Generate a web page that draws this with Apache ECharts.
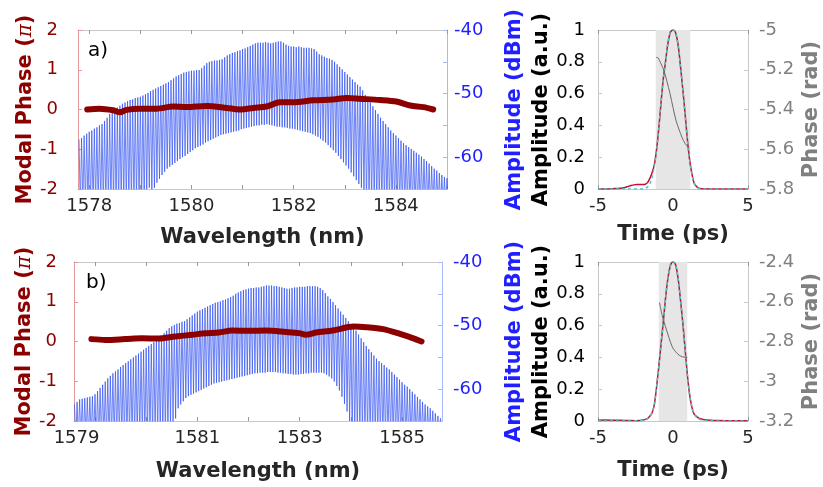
<!DOCTYPE html>
<html><head><meta charset="utf-8">
<script src="https://cdn.jsdelivr.net/npm/echarts@6/dist/echarts.min.js"></script>
<style>html,body{margin:0;padding:0;background:#fff}#c{width:823px;height:487px}</style>
</head><body><div id="c"></div>
<script>
// ---------- Panel a: comb spectrum (dBm), one peak + one trough per comb line ----------
const specA_start = 1577.80, specA_step = 0.05;
const specA_peak = [
-57.2,-57.0,-56.6,-56.3,-56.0,-55.8,-55.5,-55.3,-55.0,-54.8,
-54.3,-53.8,-53.2,-52.8,-52.5,-52.2,-51.9,-51.6,-51.4,-51.2,
-51.0,-50.9,-50.7,-50.6,-50.5,-50.3,-50.1,-49.9,-49.6,-49.4,
-49.2,-49.0,-48.8,-48.6,-48.4,-48.2,-47.9,-47.6,-47.3,-47.1,
-46.9,-46.7,-46.6,-46.5,-46.4,-46.4,-46.3,-46.3,-46.0,-45.6,
-45.2,-45.0,-44.9,-44.8,-44.8,-44.7,-44.6,-44.3,-44.0,-43.8,
-43.6,-43.5,-43.3,-43.2,-43.0,-42.9,-42.7,-42.5,-42.3,-42.1,
-42.0,-42.0,-42.0,-41.9,-42.0,-42.1,-42.0,-41.9,-41.8,-41.8,
-42.0,-42.3,-42.5,-42.6,-42.6,-42.7,-42.6,-42.7,-42.8,-42.8,
-42.8,-42.9,-43.0,-43.4,-43.8,-44.0,-44.2,-44.4,-44.5,-44.7,
-45.0,-45.4,-45.8,-46.2,-46.6,-47.0,-47.4,-47.8,-48.2,-48.6,
-48.9,-49.5,-50.2,-50.8,-51.4,-52.0,-52.6,-53.2,-53.8,-54.3,
-54.8,-55.3,-55.8,-56.2,-56.6,-57.0,-57.4,-57.8,-58.1,-58.4,
-58.7,-59.0,-59.3,-59.6,-59.9,-60.3,-60.6,-61.0,-61.4,-61.8,
-62.1,-62.5,-62.8,-63.1,-63.3];
const specA_trough = [
-68,-68,-68,-68,-68,-68,-68,-68,-68,-68,
-68,-68,-68,-68,-68,-68,-68,-68,-68,-68,
-68,-68,-68,-68,-68,-68,-66,-64.8,-65.5,-64.8,
-64.0,-63.4,-62.8,-62.3,-61.8,-61.5,-61.2,-60.9,-60.6,-60.3,
-60.0,-59.8,-59.5,-59.2,-58.9,-58.6,-58.4,-58.2,-58.0,-57.7,
-57.5,-57.3,-57.1,-56.9,-56.7,-56.5,-56.4,-56.3,-56.2,-56.1,
-56.0,-55.9,-55.8,-55.6,-55.5,-55.4,-55.3,-55.2,-55.1,-55.0,
-55.0,-54.9,-54.9,-54.8,-54.9,-55.0,-55.1,-55.2,-55.2,-55.3,
-55.3,-55.4,-55.5,-55.5,-55.6,-55.7,-55.8,-55.9,-56.0,-56.1,
-56.2,-56.4,-56.6,-56.8,-57.1,-57.4,-57.7,-58.1,-58.5,-58.9,
-59.3,-59.8,-60.3,-60.8,-61.3,-61.8,-62.4,-63.0,-63.6,-64.2,
-64.8,-66,-68,-68,-68,-68,-68,-68,-68,-68,
-68,-68,-68,-68,-68,-68,-68,-68,-68,-68,
-68,-68,-68,-68,-68,-68,-68,-68,-68,-68,
-68,-68,-68,-68,-68];
// Panel a: modal phase (units of pi)
const phaseA_wl = [1577.96,1578.2,1578.47,1578.6,1578.73,1578.99,1579.32,1579.64,1579.9,1580.3,1580.69,1580.95,1581.21,1581.47,1581.73,1581.99,1582.38,1582.77,1583.04,1583.3,1583.69,1584.01,1584.28,1584.54,1584.73];
const phaseA = [0.0,0.02,-0.02,-0.07,-0.01,0.02,0.02,0.075,0.06,0.09,0.04,0.0,0.04,0.075,0.18,0.18,0.23,0.25,0.29,0.27,0.24,0.2,0.1,0.06,0.0];

// ---------- Panel b ----------
const specB_start = 1578.60, specB_step = 0.05;
const specB_peak = [
-62.4,-62.0,-61.6,-61.5,-61.4,-61.3,-61.2,-61.1,-60.8,-60.3,
-59.8,-59.3,-58.8,-58.3,-57.9,-57.5,-57.2,-56.9,-56.5,-56.2,
-55.9,-55.6,-55.3,-55.0,-54.7,-54.4,-54.1,-53.8,-53.5,-53.2,
-52.9,-52.6,-52.3,-52.0,-51.6,-51.2,-50.8,-50.4,-50.1,-49.9,
-49.7,-49.6,-49.4,-49.3,-49.0,-48.7,-48.4,-48.1,-47.8,-47.6,
-47.4,-47.2,-47.0,-46.8,-46.6,-46.4,-46.3,-46.2,-46.0,-45.9,
-45.7,-45.5,-45.3,-45.0,-44.8,-44.6,-44.4,-44.3,-44.2,-44.1,
-44.1,-44.0,-44.0,-43.9,-43.8,-43.7,-43.7,-43.7,-43.8,-43.8,
-43.9,-44.0,-44.1,-44.2,-44.2,-44.1,-44.0,-44.0,-43.9,-43.9,
-43.9,-43.8,-43.8,-43.8,-43.8,-43.9,-44.1,-44.4,-44.9,-45.4,
-45.8,-46.3,-46.8,-47.3,-47.8,-48.3,-48.8,-49.3,-49.8,-50.2,
-50.8,-51.4,-52.0,-52.6,-53.2,-53.7,-54.2,-54.7,-55.2,-55.6,
-55.9,-56.2,-56.6,-56.9,-57.3,-57.7,-58.1,-58.5,-58.9,-59.3,
-59.6,-60.0,-60.4,-60.8,-61.2,-61.6,-62.0,-62.4,-62.7,-63.0,
-63.4,-63.8,-64.2,-64.6];
const specB_trough = [
-68,-68,-68,-68,-68,-68,-68,-68,-68,-68,
-68,-68,-68,-68,-68,-68,-68,-68,-68,-68,
-68,-68,-68,-68,-68,-68,-68,-68,-68,-68,
-68,-68,-68,-68,-68,-68,-68,-66,-65.2,-64.6,
-63.0,-62.4,-61.9,-61.4,-61.1,-60.9,-60.7,-60.5,-60.3,-60.1,
-59.9,-59.7,-59.5,-59.3,-59.1,-59.0,-58.9,-58.8,-58.7,-58.6,
-58.5,-58.4,-58.3,-58.2,-58.1,-58.0,-57.9,-57.8,-57.7,-57.6,
-57.5,-57.5,-57.4,-57.4,-57.4,-57.3,-57.3,-57.3,-57.3,-57.4,
-57.4,-57.5,-57.5,-57.6,-57.6,-57.7,-57.7,-57.7,-57.6,-57.6,
-57.5,-57.5,-57.4,-57.4,-57.4,-57.4,-57.4,-57.5,-57.7,-58.0,
-58.3,-58.8,-59.5,-60.2,-61.2,-62.3,-63.5,-65,-68,-68,
-68,-68,-68,-68,-68,-68,-68,-68,-68,-68,
-68,-68,-68,-68,-68,-68,-68,-68,-68,-68,
-68,-68,-68,-68,-68,-68,-68,-68,-68,-68,
-68,-68,-68,-68];
const phaseB_wl = [1578.93,1579.2,1579.59,1579.92,1580.24,1580.57,1580.9,1581.16,1581.42,1581.68,1582.01,1582.34,1582.73,1582.99,1583.12,1583.32,1583.65,1584.05,1584.3,1584.63,1584.96,1585.22,1585.38];
const phaseB = [0.06,0.04,0.06,0.08,0.075,0.125,0.17,0.21,0.225,0.275,0.27,0.275,0.24,0.21,0.17,0.225,0.275,0.375,0.36,0.31,0.19,0.08,0.0];

// ---------- Panel c: pulse ----------
const timeC = [-5,-4.5,-4,-3.5,-3.2,-3,-2.8,-2.6,-2.4,-2.2,-2,-1.85,-1.7,-1.55,-1.4,-1.25,-1.1,-0.95,-0.8,-0.65,-0.5,-0.35,-0.2,-0.1,0,0.1,0.2,0.35,0.5,0.65,0.8,0.95,1.1,1.25,1.4,1.55,1.7,1.85,2,2.5,3,3.5,4,4.5,5];
const ampC = [0,0,0.002,0.005,0.01,0.016,0.022,0.026,0.028,0.028,0.028,0.03,0.04,0.065,0.1,0.15,0.245,0.38,0.54,0.69,0.8,0.91,0.98,0.995,1.0,0.995,0.975,0.9,0.77,0.63,0.48,0.32,0.19,0.1,0.04,0.018,0.007,0.002,0.001,0,0,0,0,0,0];
const fitC = [0,0,0,0,0,0,0,0,0,0,0.002,0.005,0.012,0.03,0.07,0.14,0.24,0.38,0.54,0.69,0.8,0.91,0.98,0.995,1.0,0.995,0.975,0.9,0.77,0.63,0.48,0.32,0.19,0.1,0.04,0.015,0.005,0.001,0,0,0,0,0,0,0];
const phTimeC = [-1.12,-1.0,-0.8,-0.6,-0.4,-0.2,0,0.2,0.4,0.6,0.8,1.0,1.1];
const phC = [-5.138,-5.14,-5.17,-5.205,-5.26,-5.32,-5.39,-5.455,-5.5,-5.54,-5.57,-5.59,-5.595];
const shadeC = [-1.15, 1.15];

// ---------- Panel d ----------
const timeD = [-5,-4.5,-4,-3.5,-3,-2.5,-2.2,-2,-1.85,-1.7,-1.55,-1.4,-1.25,-1.1,-0.95,-0.8,-0.65,-0.5,-0.35,-0.2,-0.1,0,0.1,0.2,0.35,0.5,0.65,0.8,0.95,1.1,1.25,1.4,1.55,1.7,1.85,2,2.5,3,3.5,4,4.5,5];
const ampD = [0.004,0.006,0.005,0.004,0.003,0.002,0.003,0.006,0.01,0.015,0.03,0.05,0.1,0.21,0.34,0.48,0.62,0.77,0.89,0.97,0.995,1.0,0.995,0.975,0.89,0.76,0.62,0.46,0.3,0.17,0.09,0.045,0.03,0.02,0.014,0.01,0.005,0.003,0.002,0.002,0.002,0.001];
const fitD = [0,0,0,0,0,0.001,0.002,0.004,0.008,0.014,0.028,0.05,0.1,0.21,0.34,0.48,0.62,0.77,0.89,0.97,0.995,1.0,0.995,0.975,0.89,0.76,0.62,0.46,0.3,0.17,0.09,0.045,0.025,0.015,0.008,0.004,0.001,0,0,0,0,0];
const phTimeD = [-0.9,-0.72,-0.5,-0.27,-0.05,0.18,0.41,0.63,0.8,0.96];
const phD = [-2.604,-2.668,-2.726,-2.78,-2.827,-2.852,-2.869,-2.877,-2.879,-2.88];
const shadeD = [-0.95, 0.95];

// tick labels
const wlTicksA = [1578,1579,1580,1581,1582,1583,1584,1585];
const wlLabelsA = [1578,1580,1582,1584];
const wlTicksB = [1579,1580,1581,1582,1583,1584,1585];
const wlLabelPosB = [1578.64,1581,1583,1585];
const wlLabelTextB = ['1579','1581','1583','1585'];

// ---------- build ----------
function comb(start, step, up, lo) {
  const d = [];
  for (let i = 0; i < up.length; i++) {
    d.push([+(start + i * step).toFixed(4), up[i]]);
    d.push([+(start + (i + 0.5) * step).toFixed(4), lo[i]]);
  }
  return d;
}
const zip = (a, b) => a.map((v, i) => [v, b[i]]);

const FF = 'DejaVu Sans';
const DARKRED = '#8c0000', BLUE = '#1f1fff', GRAYTXT = '#808080', TXT = '#262626';
const BOX = '#c8c8c8';
const TICKFS = 18, NAMEFS = 21;

const grids = [
  {left: 78, top: 30, width: 369, height: 159},
  {left: 74, top: 262, width: 368, height: 159},
  {left: 598, top: 30, width: 150, height: 159},
  {left: 598, top: 262, width: 150, height: 159}
];

function xb(gi, min, max, tickVals, labelVals, fmt, name, gap) {
  return {type: 'value', gridIndex: gi, position: 'bottom', min, max,
    axisLine: {show: true, onZero: false, lineStyle: {color: BOX, width: 1}},
    axisTick: {show: true, inside: true, length: 4, customValues: tickVals, lineStyle: {color: '#999'}},
    axisLabel: {show: true, customValues: labelVals, formatter: fmt, color: TXT, fontFamily: FF, fontSize: TICKFS, margin: 8, hideOverlap: false},
    splitLine: {show: false},
    name, nameLocation: 'middle', nameGap: gap,
    nameTextStyle: {color: TXT, fontFamily: FF, fontSize: NAMEFS, fontWeight: 'bold'}};
}
function xt(gi, min, max, tickVals) {
  return {type: 'value', gridIndex: gi, position: 'top', min, max,
    axisLine: {show: true, onZero: false, lineStyle: {color: BOX, width: 1}},
    axisTick: {show: true, inside: true, length: 4, customValues: tickVals, lineStyle: {color: '#999'}},
    axisLabel: {show: false}, splitLine: {show: false}};
}
function yax(gi, pos, min, max, interval, lineColor, labelColor, fmt, margin, name, gap, nameStyle) {
  return {type: 'value', gridIndex: gi, position: pos, min, max, interval,
    axisLine: {show: true, onZero: false, lineStyle: {color: lineColor, width: 1}},
    axisTick: {show: true, inside: true, length: 4, lineStyle: {color: lineColor}},
    axisLabel: {show: true, color: labelColor, fontFamily: FF, fontSize: TICKFS, margin, formatter: fmt, hideOverlap: false},
    splitLine: {show: false},
    name, nameLocation: 'middle', nameGap: gap, nameRotate: 90,
    nameTextStyle: nameStyle};
}
const dbmFmt = v => (Math.round(v) % 10 === 0 ? String(Math.round(v)) : '');
const plainFmt = v => String(+v.toFixed(1));
const phaseName = '{a|Modal Phase (}{p|π}{a|)}';
const phaseNameStyle = {rich: {
  a: {color: DARKRED, fontFamily: FF, fontSize: NAMEFS, fontWeight: 'bold'},
  p: {color: DARKRED, fontFamily: 'DejaVu Serif', fontSize: 20, fontStyle: 'italic'}}};
const ampNameStyle = {color: BLUE, fontFamily: FF, fontSize: NAMEFS, fontWeight: 'bold'};
const amp2NameStyle = {color: '#000', fontFamily: FF, fontSize: NAMEFS, fontWeight: 'bold'};
const radNameStyle = {color: GRAYTXT, fontFamily: FF, fontSize: NAMEFS, fontWeight: 'bold'};

const xAxis = [
  xb(0, 1577.78, 1585.0, wlTicksA, wlLabelsA, v => String(Math.round(v)), 'Wavelength (nm)', 38),
  xt(0, 1577.78, 1585.0, wlTicksA),
  xb(1, 1578.59, 1585.78, wlTicksB, wlLabelPosB, v => wlLabelTextB[wlLabelPosB.findIndex(p => Math.abs(p - v) < 1e-6)] || '', 'Wavelength (nm)', 40),
  xt(1, 1578.59, 1585.78, wlTicksB),
  xb(2, -5, 5, [-5, 0, 5], [-5, 0, 5], v => String(v), 'Time (ps)', 35),
  xt(2, -5, 5, [-5, 0, 5]),
  xb(3, -5, 5, [-5, 0, 5], [-5, 0, 5], v => String(v), 'Time (ps)', 39),
  xt(3, -5, 5, [-5, 0, 5])
];
const yAxis = [
  yax(0, 'left', -2, 2, 1, '#e49a9a', DARKRED, v => String(v), 20, phaseName, 42, phaseNameStyle),
  yax(0, 'right', -65, -40, 5, '#a8b8ff', BLUE, dbmFmt, 7, 'Amplitude (dBm)', 57, ampNameStyle),
  yax(1, 'left', -2, 2, 1, '#e49a9a', DARKRED, v => String(v), 17, phaseName, 38, phaseNameStyle),
  yax(1, 'right', -65, -40, 5, '#a8b8ff', BLUE, dbmFmt, 11, 'Amplitude (dBm)', 62, ampNameStyle),
  yax(2, 'left', 0, 1, 0.2, BOX, '#000', plainFmt, 13, 'Amplitude (a.u.)', 40, amp2NameStyle),
  yax(2, 'right', -5.8, -5, 0.2, BOX, GRAYTXT, plainFmt, 11, 'Phase (rad)', 53, radNameStyle),
  yax(3, 'left', 0, 1, 0.2, BOX, '#000', plainFmt, 13, 'Amplitude (a.u.)', 40, amp2NameStyle),
  yax(3, 'right', -3.2, -2.4, 0.2, BOX, GRAYTXT, plainFmt, 11, 'Phase (rad)', 53, radNameStyle)
];

const specStyle = {color: '#3050f0', width: 0.7};
const series = [
  {type: 'line', xAxisIndex: 0, yAxisIndex: 1, data: comb(specA_start, specA_step, specA_peak, specA_trough), showSymbol: false, lineStyle: specStyle, clip: true, z: 2},
  {type: 'line', xAxisIndex: 0, yAxisIndex: 0, data: zip(phaseA_wl, phaseA), showSymbol: false, smooth: 0.3, lineStyle: {color: DARKRED, width: 6, cap: 'round', join: 'round'}, z: 3},
  {type: 'line', xAxisIndex: 2, yAxisIndex: 3, data: comb(specB_start, specB_step, specB_peak, specB_trough), showSymbol: false, lineStyle: specStyle, clip: true, z: 2},
  {type: 'line', xAxisIndex: 2, yAxisIndex: 2, data: zip(phaseB_wl, phaseB), showSymbol: false, smooth: 0.3, lineStyle: {color: DARKRED, width: 6, cap: 'round', join: 'round'}, z: 3},
  // panel c
  {type: 'line', xAxisIndex: 4, yAxisIndex: 4, data: zip(timeC, ampC), showSymbol: false, smooth: 0.3, lineStyle: {color: '#c8102e', width: 1.5}, z: 3,
    markArea: {silent: true, itemStyle: {color: '#e6e6e6'}, data: [[{xAxis: shadeC[0]}, {xAxis: shadeC[1]}]]}},
  {type: 'line', xAxisIndex: 4, yAxisIndex: 4, data: zip(timeC, fitC), showSymbol: false, smooth: 0.3, lineStyle: {color: '#52c2c8', width: 1.5, type: [3, 3]}, z: 4},
  {type: 'line', xAxisIndex: 4, yAxisIndex: 5, data: zip(phTimeC, phC), showSymbol: false, smooth: 0.3, lineStyle: {color: '#6a6a6a', width: 1}, z: 5},
  // panel d
  {type: 'line', xAxisIndex: 6, yAxisIndex: 6, data: zip(timeD, ampD), showSymbol: false, smooth: 0.3, lineStyle: {color: '#c8102e', width: 1.5}, z: 3,
    markArea: {silent: true, itemStyle: {color: '#e6e6e6'}, data: [[{xAxis: shadeD[0]}, {xAxis: shadeD[1]}]]}},
  {type: 'line', xAxisIndex: 6, yAxisIndex: 6, data: zip(timeD, fitD), showSymbol: false, smooth: 0.3, lineStyle: {color: '#52c2c8', width: 1.5, type: [3, 3]}, z: 4},
  {type: 'line', xAxisIndex: 6, yAxisIndex: 7, data: zip(phTimeD, phD), showSymbol: false, smooth: 0.3, lineStyle: {color: '#6a6a6a', width: 1}, z: 5}
];

const chart = echarts.init(document.getElementById('c'), null, {renderer: 'canvas'});
chart.setOption({
  animation: false,
  backgroundColor: '#fff',
  grid: grids.map(g => Object.assign({outerBoundsMode: 'none', containLabel: false}, g)),
  xAxis, yAxis, series,
  graphic: [
    {type: 'text', left: 88, top: 41, style: {text: 'a)', fontFamily: FF, fontSize: 20, fill: '#000'}},
    {type: 'text', left: 86, top: 273, style: {text: 'b)', fontFamily: FF, fontSize: 20, fill: '#000'}}
  ]
});
</script></body></html>
